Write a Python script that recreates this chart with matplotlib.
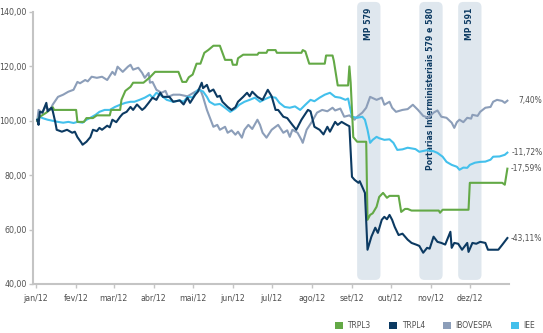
"""Desempenho TRPL3 x TRPL4 x IBOVESPA x IEE em 2012 (base 100)."""
import matplotlib
matplotlib.use('Agg')
import matplotlib.pyplot as plt
import matplotlib.dates as mdates
from matplotlib.patches import FancyBboxPatch, Patch
import pandas as pd

# dias corridos a partir de 01/01/2012 e valores (base 100)
trpl3_dias = [1, 3, 8, 13, 14, 31, 32, 37, 39, 44, 47, 57, 58, 65, 66, 69, 73, 75, 83, 88,
              92, 110, 113, 116, 118, 121, 124, 127, 130, 133, 137, 142, 144, 146, 151, 152,
              155, 156, 160, 171, 172, 178, 179, 185, 186, 205, 206, 208, 211, 223, 224, 229,
              230, 233, 236, 241, 242, 243, 245, 248, 255, 256, 258, 260, 263, 265, 268, 271,
              273, 280, 282, 285, 287, 290, 311, 312, 314, 334, 335, 360, 362, 364]
trpl3_vals = [100, 101.5, 103, 105, 104, 104, 99.6, 99.6, 101, 101, 102, 102, 104, 104, 107.7,
              111, 112.5, 114, 114, 116, 118, 118, 114.3, 114.3, 116, 117, 121, 121, 125, 126,
              127.6, 127.6, 125, 122.4, 122.4, 120.6, 120.6, 123, 124.3, 124.3, 125, 125, 126,
              126, 125, 125, 126, 125.5, 121, 121, 124, 124, 122, 113, 113, 113, 120, 114, 94,
              92.3, 92.3, 63.6, 65.4, 66, 68.4, 72, 73.5, 71.7, 72.4, 72.4, 66.5, 67.6, 67.6, 67,
              67, 66.2, 67.3, 67.3, 77.2, 77.2, 76.5, 82.4]

trpl4_dias = [1, 2, 3, 5, 8, 9, 12, 13, 15, 16, 20, 24, 28, 30, 32, 35, 36, 39, 42, 44, 47, 49,
              51, 55, 57, 59, 62, 65, 67, 70, 73, 75, 78, 82, 84, 87, 90, 93, 96, 98, 103, 106,
              111, 114, 117, 119, 123, 125, 128, 129, 132, 134, 137, 140, 142, 144, 148, 151,
              154, 156, 160, 163, 165, 167, 171, 175, 179, 182, 185, 187, 191, 194, 198, 201,
              205, 210, 212, 215, 219, 222, 225, 227, 231, 233, 236, 240, 242, 244, 246, 249,
              250, 254, 256, 259, 262, 264, 267, 269, 271, 273, 275, 277, 280, 283, 285, 287,
              290, 294, 296, 299, 302, 304, 307, 310, 313, 316, 320, 321, 323, 326, 329, 333,
              334, 337, 340, 343, 347, 349, 357, 360, 364]
trpl4_vals = [100.4, 98.5, 103.3, 103, 106.6, 103.5, 104.8, 103.5, 99.3, 96.7, 96, 96.7, 95.6,
              96, 94, 92, 91.2, 92.3, 94, 96.7, 96.2, 97.4, 96.7, 98.2, 97.6, 100.4, 99.5, 101.5,
              102.6, 103.3, 105.1, 104, 106, 104, 104.8, 106.6, 108.5, 107.7, 110.3, 108.8,
              108.8, 107, 107.5, 106, 108.5, 106.6, 109.6, 110.7, 114, 112, 113.2, 110.7, 111.5,
              108.8, 109.2, 107, 105.1, 104, 105, 107, 108.8, 110.3, 109, 110.7, 108.8, 107.7,
              111.4, 109, 104, 104, 101.5, 101, 98.5, 96.7, 100.4, 104, 103.5, 97.8, 96.7, 95,
              97.8, 96, 99.6, 98.5, 99.6, 98.5, 98, 79.4, 78.3, 77.2, 77.8, 73.5, 52.6, 57.4,
              60.7, 58.8, 63.6, 64.7, 63.8, 65.4, 63.6, 61, 58, 58.5, 57.4, 56.3, 55.1, 54.4, 54,
              51.5, 53.3, 53, 57.4, 55.5, 55.1, 54.5, 59.2, 53.3, 55.1, 54.8, 52.6, 55.1, 51.8,
              55.1, 54.8, 55.5, 55.1, 52.6, 52.6, 54.4, 56.9]

ibov_dias = [1, 2, 5, 7, 11, 13, 17, 21, 25, 29, 32, 34, 38, 40, 43, 47, 51, 55, 59, 61, 63, 67,
             71, 73, 75, 79, 82, 84, 87, 88, 90, 93, 97, 100, 102, 106, 111, 117, 123, 127, 129,
             132, 134, 137, 140, 142, 146, 148, 151, 154, 156, 159, 161, 164, 167, 171, 173,
             175, 178, 182, 185, 187, 191, 194, 196, 198, 202, 205, 206, 209, 213, 217, 221,
             225, 229, 231, 235, 238, 242, 246, 248, 252, 255, 258, 263, 267, 269, 273, 275,
             278, 283, 287, 289, 291, 295, 299, 303, 307, 310, 313, 317, 321, 323, 325, 327,
             330, 333, 336, 337, 341, 343, 347, 351, 353, 356, 360, 362, 364]
ibov_vals = [100, 104, 103, 105.1, 104, 106, 108.8, 109.6, 110.7, 111.4, 114.3, 113.8, 115,
             114.5, 116.2, 115.8, 116.2, 115, 118, 116.9, 119.9, 118, 119.9, 120.6, 118.8, 119.5,
             117.6, 115.8, 117.6, 114, 114.3, 111.4, 110.3, 111, 108.8, 109.6, 109.6, 109, 110.7,
             111.4, 108.8, 104, 101.5, 97.8, 98.5, 96.7, 97.8, 95.6, 96.5, 94.9, 96, 93.8, 96.7,
             98.5, 97, 100.4, 98.5, 95.6, 93.8, 96.7, 97.8, 98.5, 95.6, 96.5, 94.1, 96.7, 95.6,
             93, 91.9, 96.7, 99.6, 103, 104, 103.5, 104.8, 103.8, 104.5, 101.5, 102, 100.4,
             101.5, 103, 104.8, 108.8, 107.7, 108.5, 105.9, 107, 104.8, 103.3, 104, 104.3, 105.1,
             105.9, 104, 101.8, 101.1, 103, 103.8, 101.5, 101.1, 99.3, 97.4, 99.5, 100.4, 99.5,
             101.1, 100.8, 102.2, 101.8, 103.3, 104.8, 105.1, 107, 107.7, 107.3, 106.6, 107.4]

iee_dias = [1, 3, 5, 9, 13, 17, 21, 25, 29, 32, 36, 39, 42, 46, 49, 53, 57, 61, 65, 69, 73, 76,
            80, 84, 88, 90, 93, 97, 101, 106, 111, 114, 117, 121, 125, 129, 132, 134, 138, 142,
            146, 150, 154, 157, 161, 165, 169, 173, 177, 181, 185, 188, 192, 196, 200, 204,
            208, 212, 215, 219, 223, 227, 231, 235, 239, 241, 244, 248, 252, 254, 256, 258,
            260, 263, 265, 269, 273, 276, 279, 283, 287, 293, 296, 302, 307, 310, 314, 317,
            321, 325, 327, 330, 333, 335, 339, 343, 347, 351, 353, 358, 362, 364]
iee_vals = [100.4, 101.5, 101, 100.4, 100, 99.6, 99.3, 99.6, 99.2, 99.6, 99.3, 100.4, 101.1,
            102.2, 103.3, 104, 104, 105.1, 105.9, 106.6, 107, 107, 107.7, 108.5, 109.6, 108.5,
            110.3, 109.2, 107.7, 107, 107.5, 107, 108.8, 108.6, 111.4, 110.8, 108.8, 107, 105.9,
            106.2, 104.8, 103.3, 104.5, 105.9, 107, 107.7, 108.5, 107, 108, 108.8, 108.5, 106.6,
            105.1, 104.8, 105.3, 104, 105.9, 107.7, 107.2, 108.5, 109.6, 110.3, 108.8, 108.5,
            107.7, 108.2, 101.5, 101.1, 101.5, 100.4, 96.7, 91.9, 93, 94.1, 93.6, 93, 93.2, 91.9,
            89.3, 89.5, 90.1, 89.6, 88.6, 89.2, 88.8, 88.2, 86.8, 84.9, 83.8, 83.1, 82, 82.8,
            82.7, 83.8, 84.6, 84.9, 85, 85.7, 86.8, 86.9, 87.5, 88.3]

nomes = ['TRPL3', 'TRPL4', 'IBOVESPA', 'IEE']
cores = ['#63a946', '#0c3a62', '#8c9eb9', '#43c0ec']
rotulos_finais = ['-17,59%', '-43,11%', '7,40%', '-11,72%']
ordem_z = [4, 5, 2, 3]

eventos = ['MP 579', 'Portarias Interministeriais 579 e 580', 'MP 591']
eventos_ini = ['2012-09-05', '2012-10-23', '2012-11-22']
eventos_fim = ['2012-09-23', '2012-11-10', '2012-12-10']

meses = ['jan/12', 'fev/12', 'mar/12', 'abr/12', 'mai/12', 'jun/12',
         'jul/12', 'ago/12', 'set/12', 'out/12', 'nov/12', 'dez/12']

base = pd.Timestamp('2012-01-01')
plt.rcParams['font.family'] = ['DejaVu Sans']
plt.rcParams['font.stretch'] = 'condensed'
CINZA_TXT = '#505050'

fig = plt.figure(figsize=(5.43, 3.33), dpi=100)
ax = fig.add_axes([33 / 543, 1 - 284 / 333, (509 - 33) / 543, (284 - 12) / 333])

# faixas dos eventos
for nome, ini, fim in zip(eventos, eventos_ini, eventos_fim):
    x0 = mdates.date2num(pd.Timestamp(ini))
    x1 = mdates.date2num(pd.Timestamp(fim))
    faixa = FancyBboxPatch((x0, 41.5), x1 - x0, 143.7 - 41.5,
                           boxstyle='round,pad=0,rounding_size=4',
                           mutation_aspect=0.476, facecolor='#dfe7ee',
                           edgecolor='none', clip_on=False, zorder=0)
    ax.add_patch(faixa)
    ax.text((x0 + x1) / 2, 141.6, nome, rotation=90, ha='center', va='top',
            fontsize=6.2, fontweight='bold', color='#0c3a62', zorder=1, clip_on=False)

todas = [(trpl3_dias, trpl3_vals), (trpl4_dias, trpl4_vals),
         (ibov_dias, ibov_vals), (iee_dias, iee_vals)]
for (dias, vals), cor, rot, z in zip(todas, cores, rotulos_finais, ordem_z):
    datas = base + pd.to_timedelta(dias, unit='D')
    ax.plot(datas, vals, color=cor, lw=1.5, zorder=z)
    # rotulo de variacao alinhado a direita da figura
    ax.annotate(rot, xy=(0.999, vals[-1]), xycoords=('figure fraction', 'data'),
                va='center', ha='right', fontsize=6, color=CINZA_TXT)

ax.set_ylim(40, 140)
ax.set_xlim(mdates.date2num(pd.Timestamp('2011-12-29 17:00')),
            mdates.date2num(pd.Timestamp('2012-12-31 06:00')))
yt = [40, 60, 80, 100, 120, 140]
ax.set_yticks(yt)
ax.set_yticklabels(['%d,00' % v for v in yt])
ax.set_xticks(pd.date_range('2012-01-01', periods=12, freq='MS'))
ax.set_xticklabels(meses)

for s in ['top', 'right']:
    ax.spines[s].set_visible(False)
for s in ['left', 'bottom']:
    ax.spines[s].set_color('#c4c4c4')
    ax.spines[s].set_linewidth(1.5)
ax.tick_params(axis='both', colors='#c4c4c4', labelcolor=CINZA_TXT, labelsize=6.3,
               length=3, width=1)
ax.tick_params(axis='x', pad=4)
ax.tick_params(axis='y', pad=1.5)

handles = [Patch(facecolor=c, edgecolor='none', label=n) for n, c in zip(nomes, cores)]
fig.legend(handles=handles, ncol=4, loc='center left', bbox_to_anchor=(335 / 543, 7 / 333),
           frameon=False, fontsize=6, handlelength=1.0, handleheight=1.0,
           handletextpad=0.5, columnspacing=2.2, borderaxespad=0, borderpad=0,
           labelcolor=CINZA_TXT)

fig.savefig('out.png', dpi=100)
